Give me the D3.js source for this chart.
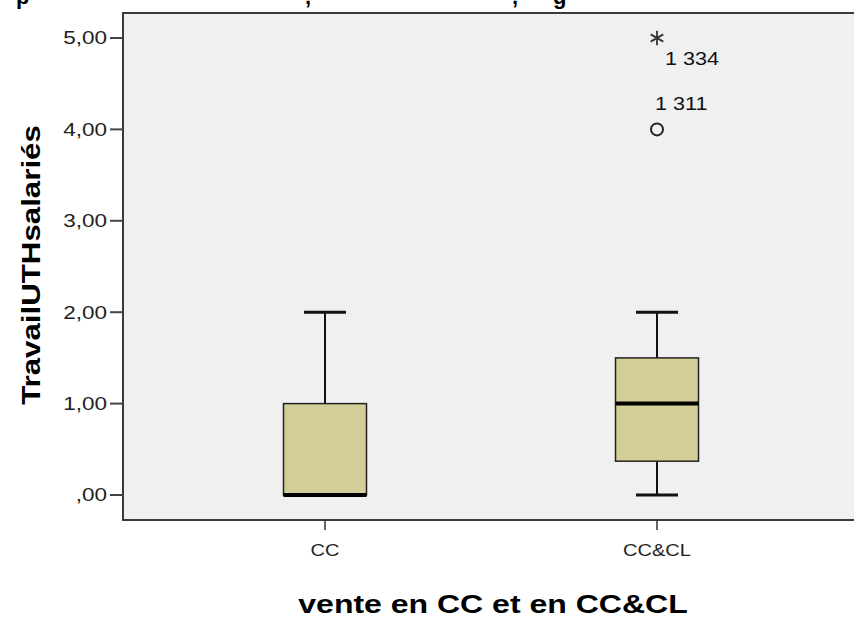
<!DOCTYPE html>
<html>
<head>
<meta charset="utf-8">
<script src="https://cdn.jsdelivr.net/npm/d3@7"></script>
<style>
  body { margin: 0; background: #fff; }
  svg { display: block; font-family: "Liberation Sans", Arial, sans-serif; }
</style>
</head>
<body>
<div id="graph"></div>
<script>
// data
const categories = ["CC", "CC&CL"];
const whiskLow = [0, 0];
const q1 = [0, 0.37];
const medians = [0, 1];
const q3 = [1, 1.5];
const whiskHigh = [2, 2];
const outlierCat = ["CC&CL", "CC&CL"];
const outlierVal = [4, 5];
const outlierKind = ["circle", "star"];
const outlierLabel = ["1 311", "1 334"];
const yTicks = [0, 1, 2, 3, 4, 5];

const fullwidth = 854;
const fullheight = 617;
const plotLeft = 123, plotTop = 13, plotBottom = 520;
const stretch = 1.25; // the source text is wider than Arial

const svg = d3.select("#graph").append("svg")
  .attr("width", fullwidth)
  .attr("height", fullheight);

function widen(sel, f) {
  sel.each(function () {
    var w = this.getComputedTextLength();
    d3.select(this).attr("textLength", w * (f || stretch)).attr("lengthAdjust", "spacingAndGlyphs");
  });
}

// cropped title fragments (only descenders visible)
const title = svg.append("text")
  .attr("y", 4)
  .attr("font-size", 22)
  .attr("font-weight", "bold")
  .attr("fill", "#000");
[["p", 16], [",", 305], [",", 512], ["g", 553]].forEach(function (f) {
  title.append("tspan").attr("x", f[1]).text(f[0]);
});

const y = d3.scaleLinear().domain([0, 5]).range([495, 38]);
const x = d3.scalePoint().domain(categories).range([plotLeft + 202, plotLeft + 534]);

// plot background
svg.append("rect")
  .attr("x", plotLeft).attr("y", plotTop)
  .attr("width", fullwidth - plotLeft + 10).attr("height", plotBottom - plotTop)
  .attr("fill", "#f0f0f0");

// frame
svg.append("path")
  .attr("d", "M" + (fullwidth + 5) + "," + plotTop + "H" + plotLeft + "V" + plotBottom + "H" + (fullwidth + 5))
  .attr("fill", "none")
  .attr("stroke", "#3a3a3a")
  .attr("stroke-width", 2);

// y axis
const yAxis = svg.append("g").attr("transform", "translate(" + plotLeft + ",0)");
yAxis.selectAll("line").data(yTicks).enter().append("line")
  .attr("x1", -13).attr("x2", 0)
  .attr("y1", d => y(d)).attr("y2", d => y(d))
  .attr("stroke", "#444").attr("stroke-width", 2);
yAxis.selectAll("text").data(yTicks).enter().append("text")
  .attr("x", -16).attr("y", d => y(d)).attr("dy", "0.36em")
  .attr("text-anchor", "end").attr("font-size", 18).attr("fill", "#222")
  .text(d => d3.format(".2f")(d).replace(".", ",").replace(/^0,/, ","))
  .call(widen);

// x axis
const xAxis = svg.append("g").attr("transform", "translate(0," + plotBottom + ")");
xAxis.selectAll("line").data(categories).enter().append("line")
  .attr("x1", d => x(d)).attr("x2", d => x(d))
  .attr("y1", 0).attr("y2", 10)
  .attr("stroke", "#333").attr("stroke-width", 1.5);
xAxis.selectAll("text").data(categories).enter().append("text")
  .attr("x", d => x(d)).attr("y", 36)
  .attr("text-anchor", "middle").attr("font-size", 16).attr("fill", "#222")
  .text(d => d)
  .call(widen);

// axis titles
svg.append("text")
  .attr("transform", "translate(40,265) rotate(-90)")
  .attr("text-anchor", "middle").attr("font-size", 25).attr("font-weight", "bold")
  .text("TravailUTHsalariés")
  .call(widen);
svg.append("text")
  .attr("x", 493).attr("y", 613)
  .attr("text-anchor", "middle").attr("font-size", 25).attr("font-weight", "bold")
  .text("vente en CC et en CC&CL")
  .call(widen, 1.28);

// boxes
const boxW = 83, capW = 42;
const boxes = svg.append("g");
categories.forEach(function (c, i) {
  const cx = x(c);
  const g = boxes.append("g");
  if (whiskHigh[i] > q3[i]) {
    g.append("line").attr("x1", cx).attr("x2", cx)
      .attr("y1", y(q3[i])).attr("y2", y(whiskHigh[i]))
      .attr("stroke", "#111").attr("stroke-width", 2);
  }
  g.append("line").attr("x1", cx - capW / 2).attr("x2", cx + capW / 2)
    .attr("y1", y(whiskHigh[i])).attr("y2", y(whiskHigh[i]))
    .attr("stroke", "#111").attr("stroke-width", 3);
  if (whiskLow[i] < q1[i]) {
    g.append("line").attr("x1", cx).attr("x2", cx)
      .attr("y1", y(q1[i])).attr("y2", y(whiskLow[i]))
      .attr("stroke", "#111").attr("stroke-width", 2);
    g.append("line").attr("x1", cx - capW / 2).attr("x2", cx + capW / 2)
      .attr("y1", y(whiskLow[i])).attr("y2", y(whiskLow[i]))
      .attr("stroke", "#111").attr("stroke-width", 3);
  }
  g.append("rect")
    .attr("x", cx - boxW / 2).attr("y", y(q3[i]))
    .attr("width", boxW).attr("height", y(q1[i]) - y(q3[i]))
    .attr("fill", "#d3ce97").attr("stroke", "#222").attr("stroke-width", 1.5);
  g.append("line").attr("x1", cx - boxW / 2).attr("x2", cx + boxW / 2)
    .attr("y1", y(medians[i])).attr("y2", y(medians[i]))
    .attr("stroke", "#000").attr("stroke-width", 4);
});

// outliers
const outs = svg.append("g");
outlierVal.forEach(function (v, i) {
  const cx = x(outlierCat[i]), cy = y(v);
  if (outlierKind[i] === "circle") {
    outs.append("circle").attr("cx", cx).attr("cy", cy).attr("r", 6)
      .attr("fill", "none").attr("stroke", "#222").attr("stroke-width", 2);
    outs.append("text").attr("x", cx - 2).attr("y", cy - 19)
      .attr("font-size", 18).attr("fill", "#111").text(outlierLabel[i])
      .call(widen, 1.2);
  } else {
    outs.append("path")
      .attr("d", d3.symbol(d3.symbolAsterisk, 150)())
      .attr("transform", "translate(" + cx + "," + cy + ")")
      .attr("fill", "none").attr("stroke", "#333").attr("stroke-width", 1.8);
    outs.append("text").attr("x", cx + 8).attr("y", cy + 27)
      .attr("font-size", 18).attr("fill", "#111").text(outlierLabel[i])
      .call(widen, 1.2);
  }
});
</script>
</body>
</html>
